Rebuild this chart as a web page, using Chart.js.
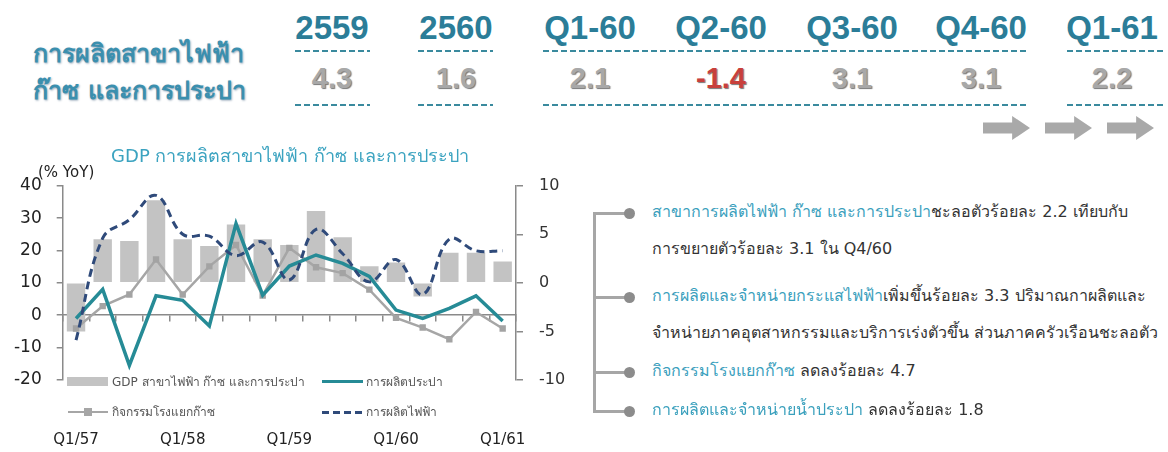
<!DOCTYPE html>
<html>
<head>
<meta charset="utf-8">
<script src="https://cdn.jsdelivr.net/npm/chart.js@4.4.1/dist/chart.umd.min.js"></script>
<style>
  body { margin: 0; width: 1168px; height: 452px; background: #fff; position: relative; overflow: hidden;
         font-family: "DejaVu Sans", "Noto Sans", sans-serif; }
  .abs { position: absolute; white-space: nowrap; }
  .hdr { font-family: "Liberation Sans", Arial, sans-serif; font-weight: bold; font-size: 33px; color: #2b7d98;
         width: 140px; text-align: center; line-height: 34px; }
  .val { font-family: "Liberation Sans", Arial, sans-serif; font-weight: bold; font-size: 29px; color: #a8a8a8;
         width: 140px; text-align: center; line-height: 30px; text-shadow: 1px 1px 1px #777; }
  .dash { height: 2px; background: repeating-linear-gradient(90deg, #3a8a9e 0 6px, transparent 6px 9px); }
  .arrow { width: 47px; height: 24px; background: #a9a9a9;
           clip-path: polygon(0 27%, 62% 27%, 62% 0, 100% 50%, 62% 100%, 62% 73%, 0 73%); }
  .ttl { font-weight: bold; font-size: 25px; color: #3b8fae; text-shadow: 1px 1px 2px #9ab; line-height: 32px; }
  .leg { font-size: 12px; color: #555; line-height: 14px; }
  .note { font-size: 16px; color: #333; line-height: 20px; }
  .note b { font-weight: normal; color: #3aa0bd; }
  .dot { width: 11px; height: 11px; border-radius: 50%; background: #8c8c8c; }
</style>
</head>
<body>
<div class="abs ttl" style="left:33px; top:38px;">การผลิตสาขาไฟฟ้า</div>
<div class="abs ttl" style="left:33px; top:75px;">ก๊าซ และการประปา</div>
<div id="head"></div>

<div class="abs" style="left:0; top:140px; width:580px; height:312px;">
  <canvas id="c" width="580" height="312"></canvas>
</div>
<div class="abs" style="left:38px; top:163px; font-size:15px; color:#222;">(% YoY)</div>

<!-- legend -->
<div class="abs" style="left:67px; top:377px; width:41px; height:9px; background:#c3c3c3;"></div>
<div class="abs leg" style="left:112px; top:375px;">GDP สาขาไฟฟ้า ก๊าซ และการประปา</div>
<div class="abs" style="left:322px; top:380px; width:41px; height:3px; background:#268b96;"></div>
<div class="abs leg" style="left:366px; top:375px;">การผลิตประปา</div>
<div class="abs" style="left:68px; top:411px; width:40px; height:2px; background:#a6a6a6;"></div>
<div class="abs" style="left:84px; top:408px; width:8px; height:8px; background:#a6a6a6;"></div>
<div class="abs leg" style="left:112px; top:405px;">กิจกรรมโรงแยกก๊าซ</div>
<div class="abs" style="left:322px; top:411px; width:41px; height:3px; background:repeating-linear-gradient(90deg, #2f4a7a 0 7px, transparent 7px 11px);"></div>
<div class="abs leg" style="left:366px; top:405px;">การผลิตไฟฟ้า</div>

<!-- notes -->
<div class="abs" style="left:593px; top:212px; width:3px; height:200px; background:#a6a6a6;"></div>
<div id="notes"></div>

<script>
// top summary row
const periods = ['2559', '2560', 'Q1-60', 'Q2-60', 'Q3-60', 'Q4-60', 'Q1-61'];
const periodGrowth = [4.3, 1.6, 2.1, -1.4, 3.1, 3.1, 2.2];

// chart data
const quarters = ['Q1/57', 'Q2/57', 'Q3/57', 'Q4/57', 'Q1/58', 'Q2/58', 'Q3/58', 'Q4/58',
  'Q1/59', 'Q2/59', 'Q3/59', 'Q4/59', 'Q1/60', 'Q2/60', 'Q3/60', 'Q4/60', 'Q1/61'];
const gdpBranch = [-5.0, 4.5, 4.3, 8.5, 4.5, 3.8, 6.0, 4.5, 3.9, 7.4, 4.7, 1.7, 2.1, -1.4, 3.1, 3.1, 2.2];
const waterProd = [-1.0, 8.0, -15.5, 6.0, 4.6, -3.3, 28.3, 6.2, 15.2, 18.6, 16.0, 12.0, 1.6, -1.0, 2.1, 6.0, -1.8];
const gasPlant = [-4.7, -2.4, -1.2, 2.4, -1.2, 1.7, 3.9, -1.3, 3.6, 1.6, 1.0, -0.7, -3.6, -4.6, -5.8, -3.0, -4.7];
const powerProd = [-5.9, 4.6, 6.5, 9.0, 5.0, 4.8, 2.8, 4.2, 0.3, 5.5, 3.0, 0.1, 2.4, -1.2, 4.5, 3.3, 3.3];
const leftRange = [-20, 40];
const rightRange = [-10, 10];

// header layout
const centers = [332, 456, 590, 721, 852, 981, 1112];
const head = document.getElementById('head');
let html = '';
periods.forEach((p, i) => {
  const v = periodGrowth[i];
  html += `<div class="abs hdr" style="left:${centers[i] - 70}px; top:11px;">${p}</div>`;
  html += `<div class="abs val" style="left:${centers[i] - 70}px; top:63px; color:${v < 0 ? '#c8403c' : '#a8a8a8'};">${v.toFixed(1)}</div>`;
});
[[295, 370], [418, 493], [543, 1027], [1067, 1163]].forEach(([a, b]) => {
  html += `<div class="abs dash" style="left:${a}px; top:50px; width:${b - a}px;"></div>`;
  html += `<div class="abs dash" style="left:${a}px; top:104px; width:${b - a}px;"></div>`;
});
[983, 1045, 1107].forEach(x => {
  html += `<div class="abs arrow" style="left:${x}px; top:116px;"></div>`;
});
head.innerHTML = html;

// notes on the right
const notes = [
  { y: 213, lines: ['<b>สาขาการผลิตไฟฟ้า ก๊าซ และการประปา</b>ชะลอตัวร้อยละ 2.2 เทียบกับ', 'การขยายตัวร้อยละ 3.1 ใน Q4/60'] },
  { y: 297, lines: ['<b>การผลิตและจำหน่ายกระแสไฟฟ้า</b>เพิ่มขึ้นร้อยละ 3.3 ปริมาณกาผลิตและ', 'จำหน่ายภาคอุตสาหกรรมและบริการเร่งตัวขึ้น ส่วนภาคครัวเรือนชะลอตัว'] },
  { y: 372, lines: ['<b>กิจกรรมโรงแยกก๊าซ</b> ลดลงร้อยละ 4.7'] },
  { y: 411, lines: ['<b>การผลิตและจำหน่ายน้ำประปา</b> ลดลงร้อยละ 1.8'] }
];
let nh = '';
notes.forEach(n => {
  nh += `<div class="abs" style="left:593px; top:${n.y - 1}px; width:34px; height:3px; background:#a6a6a6;"></div>`;
  nh += `<div class="abs dot" style="left:624px; top:${n.y - 5}px;"></div>`;
  n.lines.forEach((t, k) => {
    nh += `<div class="abs note" style="left:652px; top:${n.y - 11 + k * 37}px;">${t}</div>`;
  });
});
document.getElementById('notes').innerHTML = nh;

new Chart(document.getElementById('c'), {
  type: 'bar',
  data: {
    labels: quarters,
    datasets: [
      {
        type: 'line', label: 'การผลิตไฟฟ้า', data: powerProd, yAxisID: 'y1',
        borderColor: '#2f4a7a', borderWidth: 3, borderDash: [8, 5], tension: 0.4,
        pointRadius: 0, fill: false, order: 1
      },
      {
        type: 'line', label: 'การผลิตประปา', data: waterProd, yAxisID: 'y',
        borderColor: '#268b96', borderWidth: 3.5, tension: 0, pointRadius: 0, fill: false, order: 2
      },
      {
        type: 'line', label: 'กิจกรรมโรงแยกก๊าซ', data: gasPlant, yAxisID: 'y1',
        borderColor: '#a6a6a6', borderWidth: 2.5, tension: 0,
        pointStyle: 'rect', pointRadius: 4.5, pointBackgroundColor: '#a3a3a3', pointBorderWidth: 0,
        fill: false, order: 3
      },
      {
        label: 'GDP สาขาไฟฟ้า ก๊าซ และการประปา', data: gdpBranch, yAxisID: 'y1',
        backgroundColor: '#c3c3c3', categoryPercentage: 0.69, barPercentage: 1, order: 4
      }
    ]
  },
  options: {
    responsive: false,
    animation: false,
    layout: { padding: 0 },
    plugins: {
      legend: { display: false },
      tooltip: { enabled: false },
      title: {
        display: true,
        text: 'GDP การผลิตสาขาไฟฟ้า ก๊าซ และการประปา',
        color: '#3ba3c0',
        font: { size: 18, weight: 'normal', family: '"DejaVu Sans", "Noto Sans", sans-serif' },
        padding: { top: 7, bottom: 17.1 }
      }
    },
    scales: {
      x: {
        position: 'bottom',
        offset: true,
        grid: { display: false, drawTicks: false },
        border: { display: false },
        ticks: {
          autoSkip: false, maxRotation: 0, padding: 51, color: '#222',
          font: { size: 15, family: '"DejaVu Sans", sans-serif' },
          callback: (v, i) => (i % 4 === 0 ? quarters[i] : '')
        },
        afterFit: s => { s.height = 72; }
      },
      x2: {
        type: 'category',
        position: { y: 0 },
        offset: true,
        grid: { display: true, drawOnChartArea: false, offset: true, tickLength: 6, color: '#8a8a8a', lineWidth: 1.5 },
        border: { display: true, color: '#8a8a8a', width: 1.5 },
        ticks: { display: false }
      },
      y: {
        position: 'left',
        min: leftRange[0], max: leftRange[1],
        ticks: { stepSize: 10, color: '#222', padding: 15, font: { size: 17, family: '"DejaVu Sans", sans-serif' } },
        grid: { drawOnChartArea: false, tickLength: 6, color: '#8a8a8a', lineWidth: 1.5 },
        border: { color: '#8a8a8a', width: 1.5 },
        afterFit: s => { s.width = 62.7; }
      },
      y1: {
        position: 'right',
        min: rightRange[0], max: rightRange[1],
        ticks: { stepSize: 5, color: '#333', padding: 16, font: { size: 16, family: '"DejaVu Sans", sans-serif' } },
        grid: { drawOnChartArea: false, tickLength: 7, color: '#8a8a8a', lineWidth: 1.5 },
        border: { color: '#8a8a8a', width: 1.5 },
        afterFit: s => { s.width = 64; }
      }
    }
  }
});
</script>
</body>
</html>
